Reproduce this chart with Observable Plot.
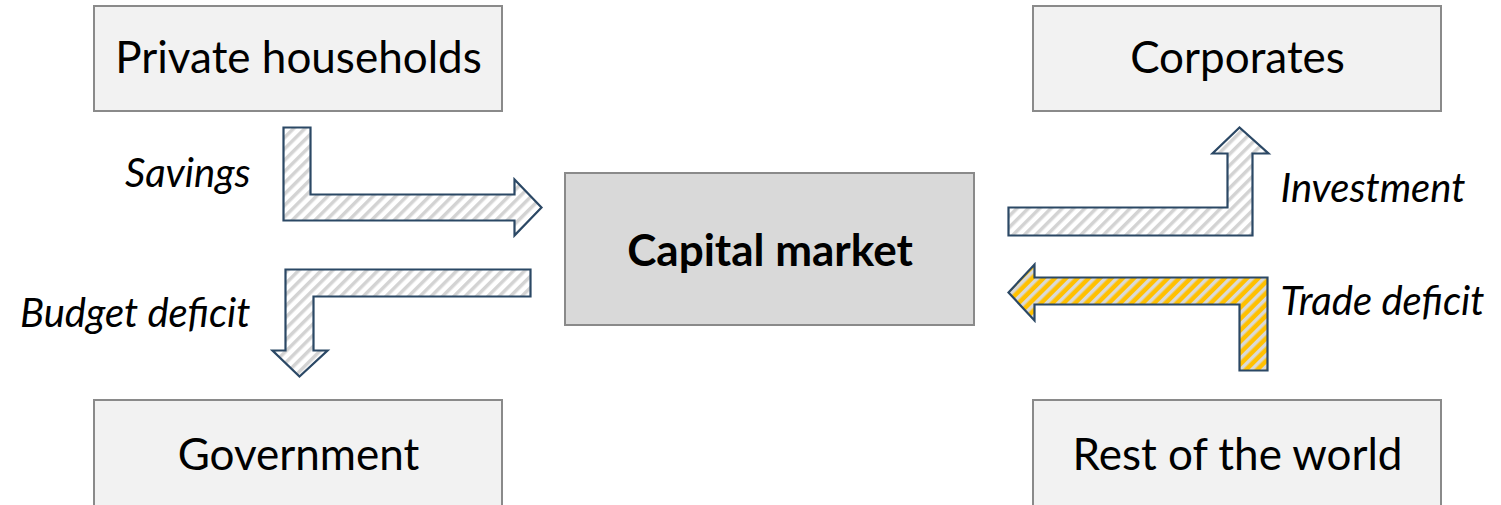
<!DOCTYPE html>
<html>
<head>
<meta charset="utf-8">
<script src="https://cdn.jsdelivr.net/npm/d3@7"></script>
<script src="https://cdn.jsdelivr.net/npm/@observablehq/plot@0.6"></script>
<style>
  html, body { margin: 0; padding: 0; background: #ffffff; }
  #chart svg { display: block; font-family: Lato, "Open Sans", sans-serif; }
</style>
</head>
<body>
<div id="chart"></div>
<script>
// ---- Data: sectors (boxes) in diagram units ----
const boxLabels = ["Private households", "Corporates", "Capital market", "Government", "Rest of the world"];
const boxX1 = [94, 1033, 565, 94, 1033];
const boxX2 = [502, 1441, 974, 502, 1441];
const boxY1 = [6, 6, 173, 400, 400];
const boxY2 = [111, 111, 325, 511, 511];
const boxKind = ["sector", "sector", "market", "sector", "sector"];

// ---- Data: flows (arrow outlines) ----
const flowNames = ["Savings", "Budget deficit", "Investment", "Trade deficit"];
const flowHighlight = [false, false, false, true];
const flowOutlines = [
  [[283,127],[310,127],[310,194],[514,194],[514,179],[541,207],[514,235],[514,220],[283,220]],
  [[285,269],[530,269],[530,296],[313,296],[313,350],[327,350],[299,376],[272,350],[285,350]],
  [[1008,207],[1227,207],[1227,153],[1212,153],[1239,127],[1268,153],[1252,153],[1252,235],[1008,235]],
  [[1008,292],[1034,264],[1034,277],[1267,277],[1267,370],[1239,370],[1239,304],[1034,304],[1034,320]]
];
const flowLabelX = [250, 250, 1280, 1280];
const flowLabelY = [174, 314, 189, 302];
const flowLabelSide = ["left", "left", "right", "right"];

// ---- Build tables ----
const boxes = boxLabels.map((label, i) => ({
  label, x1: boxX1[i], x2: boxX2[i], y1: boxY1[i], y2: boxY2[i], kind: boxKind[i],
  cx: (boxX1[i] + boxX2[i]) / 2, cy: (boxY1[i] + boxY2[i]) / 2
}));
const points = [];
flowNames.forEach((name, i) => {
  flowOutlines[i].forEach(([x, y]) => points.push({name, x, y, highlight: flowHighlight[i]}));
});
const flowLabels = flowNames.map((name, i) => ({name, x: flowLabelX[i], y: flowLabelY[i], side: flowLabelSide[i]}));

const strokeCol = "#2b4865";
const lineOpts = {x: "x", y: "y", z: "name", curve: "linear-closed", stroke: strokeCol, strokeWidth: 2.2, strokeLinejoin: "miter", strokeMiterlimit: 10, strokeLinecap: "butt"};
const labelOpts = {x: "x", y: "y", text: "name", fontSize: 40, fontStyle: "italic", fill: "#000000", lineAnchor: "middle"};

const chart = Plot.plot({
  width: 1501,
  height: 505,
  margin: 0,
  style: {background: "#ffffff", color: "#000000", fontFamily: "Lato, 'Open Sans', sans-serif"},
  x: {domain: [0, 1501], range: [0, 1501], axis: null},
  y: {domain: [0, 505], range: [0, 505], axis: null},
  marks: [
    Plot.rect(boxes.filter(d => d.kind === "sector"), {x1: "x1", x2: "x2", y1: "y1", y2: "y2", fill: "#f2f2f2", stroke: "#8a8a8a", strokeWidth: 2}),
    Plot.rect(boxes.filter(d => d.kind === "market"), {x1: "x1", x2: "x2", y1: "y1", y2: "y2", fill: "#d9d9d9", stroke: "#8a8a8a", strokeWidth: 2}),
    Plot.line(points.filter(d => !d.highlight), {...lineOpts, fill: "url(#hatchGray)"}),
    Plot.line(points.filter(d => d.highlight), {...lineOpts, fill: "url(#hatchGold)"}),
    Plot.text(boxes.filter(d => d.kind === "sector"), {x: "cx", y: "cy", text: "label", fontSize: 44, fill: "#000000", lineAnchor: "middle"}),
    Plot.text(boxes.filter(d => d.kind === "market"), {x: "cx", y: "cy", text: "label", fontSize: 44, fontWeight: "bold", fill: "#000000", lineAnchor: "middle", dy: 2}),
    Plot.text(flowLabels.filter(d => d.side === "left"), {...labelOpts, textAnchor: "end"}),
    Plot.text(flowLabels.filter(d => d.side === "right"), {...labelOpts, textAnchor: "start"})
  ]
});

// Hatch patterns
const ns = "http://www.w3.org/2000/svg";
const defs = document.createElementNS(ns, "defs");
defs.innerHTML = `
  <pattern id="hatchGray" patternUnits="userSpaceOnUse" width="8" height="8" patternTransform="rotate(45)">
    <rect x="0" y="0" width="8" height="8" fill="#ffffff"></rect>
    <rect x="0" y="0" width="3.5" height="8" fill="#d3d3d3"></rect>
  </pattern>
  <pattern id="hatchGold" patternUnits="userSpaceOnUse" width="8" height="8" patternTransform="rotate(45)">
    <rect x="0" y="0" width="8" height="8" fill="#ffc000"></rect>
    <rect x="0" y="0" width="3.5" height="8" fill="#d9d9d9"></rect>
  </pattern>`;
chart.insertBefore(defs, chart.firstChild);
document.getElementById("chart").appendChild(chart);
</script>
</body>
</html>
